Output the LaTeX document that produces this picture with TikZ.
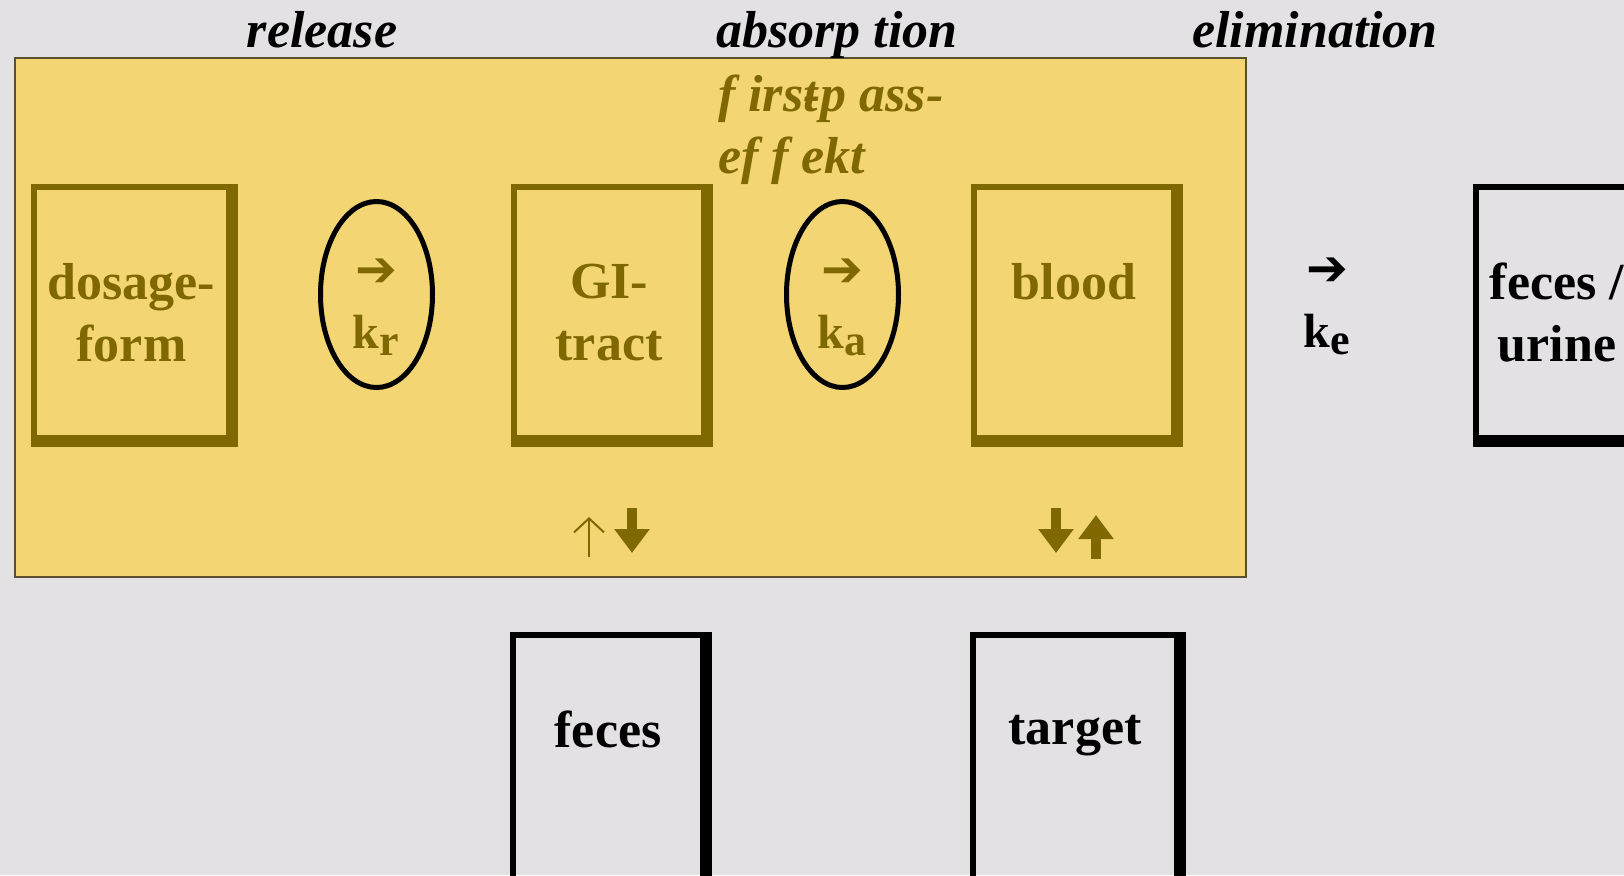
\documentclass[tikz,border=0pt]{standalone}
\usepackage{fontspec}
\setmainfont{Liberation Serif}
\newfontfamily\symfont{DejaVu Sans}
\usetikzlibrary{arrows.meta,shapes.geometric}
\definecolor{bggray}{HTML}{E3E1E4}
\definecolor{yel}{HTML}{F3D573}
\definecolor{olv}{HTML}{806800}
\definecolor{panelframe}{HTML}{5A5030}
\newcommand{\thickedge}[2]{\draw[#2, line width=3pt, line join=miter, line cap=butt]
  ([shift={(3pt,1.5pt)}]#1.north east) -- ([shift={(3pt,-3pt)}]#1.south east) -- ([shift={(-1.5pt,-3pt)}]#1.south west);}
\newcommand{\lowsub}[1]{\raisebox{-3.5pt}{\fontsize{22}{22}\selectfont #1}}
\newcommand{\heavyarrow}{{\symfont\bfseries\fontsize{25}{25}\selectfont ➔}}
\begin{document}
\begin{tikzpicture}[x=0.5pt,y=-0.5pt,
  box/.style={draw, line width=3pt, outer sep=0pt, inner sep=0pt, minimum height=125.5pt,
    anchor=north west, align=center, font=\bfseries\fontsize{26}{31}\selectfont},
  obox/.style={box, draw=olv, text=olv},
  kbox/.style={box, draw=black, text=black},
  ell/.style={ellipse, draw=black, line width=2.5pt, minimum width=56pt, minimum height=93pt, inner sep=0pt},
  rate/.style={align=center, inner sep=0pt, font=\bfseries\fontsize{24}{31}\selectfont},
  hdr/.style={font=\bfseries\itshape\fontsize{26}{31}\selectfont, text=black, anchor=base},
  fpe/.style={font=\bfseries\itshape\fontsize{26}{31}\selectfont, text=olv, align=left, anchor=west},
  thin/.style={draw=olv, line width=1pt, -{Straight Barb[length=7pt,width=15pt,line width=1pt]}},
  thick/.style={draw=olv, line width=5pt, -{Triangle[length=12pt,width=17pt]}},
]
\useasboundingbox (0,0) rectangle (1624,875);
\clip (0,0) rectangle (1624,875);
\fill[bggray] (0,0) rectangle (1624,875);
% yellow panel
\draw[fill=yel, draw=panelframe, line width=1pt] (14.5,58) rectangle (1246,577);
% headers
\node[hdr] (release) at (322,47) {release};
\node[hdr] (absorption) at (837,47) {absorp tion};
\node[hdr] (elimination) at (1315,47) {elimination};
\node[fpe] (firstpass) at (711,130) {f irs\rlap{t}-p ass-\\ef f ekt};
% boxes in the panel
\node[obox, minimum width=97.5pt] (dosage) at (34,187) {dosage-\\form};
\thickedge{dosage}{olv}
\node[obox, minimum width=95pt] (gi) at (514,187) {GI-\\tract};
\thickedge{gi}{olv}
\node[obox, minimum width=100pt] (blood) at (974,187) {blood\\\mbox{}};
\thickedge{blood}{olv}
% rate ellipses
\node[ell] (kr) at (376.5,294.5) {};
\node[rate, text=olv] (krtext) at (376,307) {\heavyarrow\\k\lowsub{r}};
\node[ell] (ka) at (842.5,294.5) {};
\node[rate, text=olv] (katext) at (842,307) {\heavyarrow\\k\lowsub{a}};
% elimination
\node[rate, text=black] (ke) at (1327,306) {\heavyarrow\\k\lowsub{e}};
\node[kbox, minimum width=100pt] (fu) at (1476,187) {};
\thickedge{fu}{black}
\node[align=center, font=\bfseries\fontsize{26}{31}\selectfont] (futext) at (1557,312) {feces /\\urine};
% lower boxes
\node[kbox, minimum width=95pt] (feces) at (513,635) {feces\\\mbox{}};
\thickedge{feces}{black}
\node[kbox, minimum width=102pt] (target) at (973,635) {target\\\mbox{}};
\thickedge{target}{black}
% exchange arrows
\coordinate (giup1) at (589,557);
\coordinate (giup2) at (589,517);
\coordinate (gidn1) at (632,508);
\coordinate (gidn2) at (632,553);
\coordinate (bldn1) at (1056,508);
\coordinate (bldn2) at (1056,553);
\coordinate (blup1) at (1096,559);
\coordinate (blup2) at (1096,515);
\draw[thin] (giup1) -- (giup2);
\draw[thick] (gidn1) -- (gidn2);
\draw[thick] (bldn1) -- (bldn2);
\draw[thick] (blup1) -- (blup2);
\end{tikzpicture}
\end{document}
